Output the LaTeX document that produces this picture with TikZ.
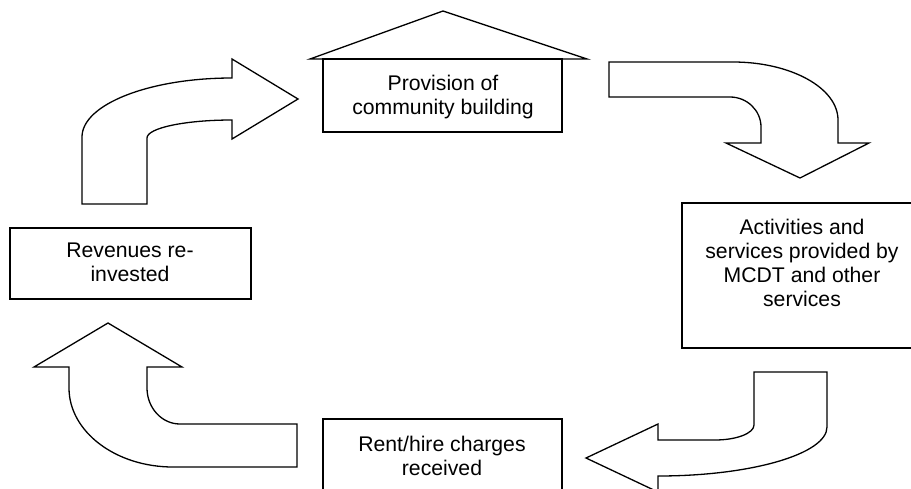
\documentclass[tikz,border=0pt]{standalone}
\usepackage{fontspec}
\setmainfont{Liberation Sans}
\begin{document}
\begin{tikzpicture}[x=1pt,y=-1pt,
  line width=1.3pt,
  box/.style={draw=black, line width=1.3pt, rectangle, inner sep=0pt},
  lbl/.style={inner sep=0pt, anchor=base, font=\fontsize{21.2}{24}\selectfont},
  blockarrow/.style={draw=black, fill=white, line width=1.3pt, line join=miter}]
\clip (0,0) rectangle (911,488);
\fill[white] (0,0) rectangle (911,488);

% boxes
\node[box, minimum width=239pt, minimum height=73pt] (prov) at (442.5,95.5) {};
\node[box, minimum width=240pt, minimum height=145pt] (act) at (802,275.5) {};
\node[box, minimum width=239pt, minimum height=81pt] (rent) at (442.5,459.5) {};
\node[box, minimum width=241pt, minimum height=71pt] (rev) at (130.5,263.5) {};

% roof
\draw[line join=miter] (310,59) -- (443,11) -- (587,59) -- cycle;

% labels
\node[lbl] (provtxt) at (443,90) {\begin{tabular}[t]{@{}c@{}}Provision of\\community building\end{tabular}};
\node[lbl] (acttxt) at (802,234) {\begin{tabular}[t]{@{}c@{}}Activities and\\services provided by\\MCDT and other\\services\end{tabular}};
\node[lbl] (renttxt) at (442,451) {\begin{tabular}[t]{@{}c@{}}Rent/hire charges\\received\end{tabular}};
\node[lbl] (revtxt) at (130,257) {\begin{tabular}[t]{@{}c@{}}Revenues re-\\invested\end{tabular}};

% top-left arrow
\draw[blockarrow] (82,204) -- (82,137) .. controls (82,104.4) and (149.2,78) .. (232,78)
  -- (232,59) -- (298,99) -- (232,139) -- (232,120)
  .. controls (185,120) and (147,128) .. (147,138) -- (147,204) -- cycle;

% top-right arrow
\draw[blockarrow] (609,62) -- (733,62) .. controls (791,62) and (838,88) .. (838,120)
  -- (838,143) -- (869,143) -- (800,178) -- (726,143) -- (761,143) -- (761,127)
  .. controls (761,110.4) and (747,97) .. (730,97) -- (609,97) -- cycle;

% bottom-right arrow
\draw[blockarrow] (754,372) -- (827,372) -- (827,427) .. controls (827,454) and (751,476) .. (658,476)
  -- (658,492) -- (586,458) -- (658,424) -- (658,440) -- (715,440)
  .. controls (736.5,440) and (754,433.3) .. (754,425) -- cycle;

% bottom-left arrow
\draw[blockarrow] (108,323) -- (182,367) -- (147,367) -- (147,388)
  .. controls (147,407.9) and (161.8,424) .. (180,424) -- (297,424) -- (297,467) -- (173,467)
  .. controls (115.6,467) and (69,431.6) .. (69,388) -- (69,367) -- (34,367) -- cycle;
\end{tikzpicture}
\end{document}
